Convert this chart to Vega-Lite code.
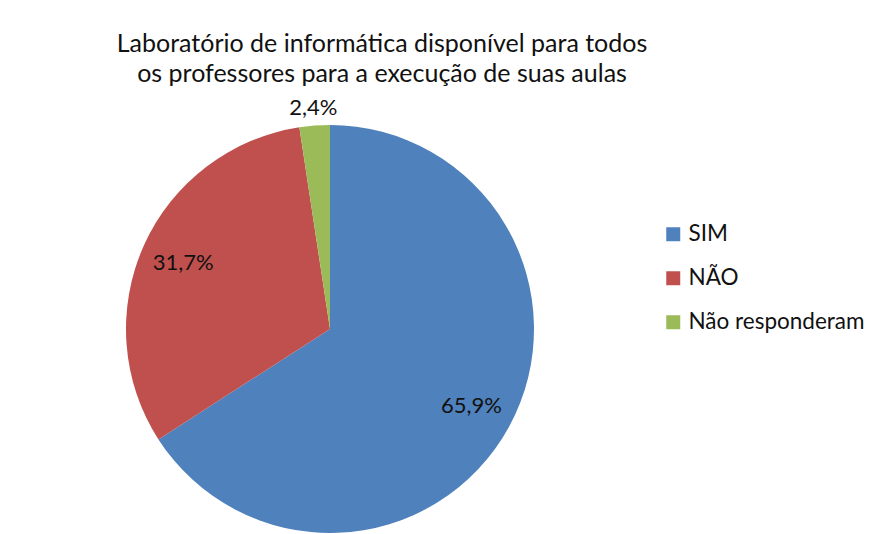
{
  "$schema": "https://vega.github.io/schema/vega-lite/v6.json",
  "autosize": {"type": "none"},
  "width": 660,
  "height": 458,
  "padding": {"left": 0, "top": 100, "right": 214, "bottom": 0},
  "background": "white",
  "title": {
    "text": ["Laboratório de informática disponível para todos", "os professores para a execução  de suas aulas"],
    "font": "Lato",
    "fontSize": 25,
    "fontWeight": "normal",
    "color": "#111111",
    "anchor": "middle",
    "dx": 52,
    "offset": 10,
    "lineHeight": 30
  },
  "data": {
    "values": [
      {"resposta": "SIM", "pct": 65.9, "rotulo": "65,9%"},
      {"resposta": "NÃO", "pct": 31.7, "rotulo": "31,7%"},
      {"resposta": "Não responderam", "pct": 2.4, "rotulo": "2,4%"}
    ]
  },
  "encoding": {
    "theta": {"field": "pct", "type": "quantitative", "stack": true},
    "order": {"field": "pct", "type": "quantitative", "sort": "descending"}
  },
  "layer": [
    {
      "mark": {"type": "arc", "outerRadius": 204, "stroke": null},
      "encoding": {
        "color": {
          "field": "resposta",
          "type": "nominal",
          "sort": ["SIM", "NÃO", "Não responderam"],
          "scale": {"domain": ["SIM", "NÃO", "Não responderam"], "range": ["#4F81BD", "#C0504D", "#9BBB59"]},
          "legend": {
            "title": null,
            "orient": "none",
            "legendX": 662,
            "legendY": 123,
            "padding": 0,
            "symbolType": "square",
            "symbolSize": 196,
            "symbolStrokeWidth": 0,
            "labelFont": "Lato",
            "labelFontSize": 22.5,
            "labelColor": "#111111",
            "labelOffset": 4,
            "labelLimit": 400,
            "rowPadding": 21
          }
        }
      }
    },
    {
      "mark": {"type": "text", "radius": 161, "font": "Lato", "fontSize": 22, "color": "#111111"},
      "encoding": {
        "text": {"condition": {"test": "datum.pct < 5", "value": ""}, "field": "rotulo", "type": "nominal"}
      }
    },
    {
      "mark": {"type": "text", "radius": 222, "font": "Lato", "fontSize": 22, "color": "#111111"},
      "encoding": {
        "text": {"condition": {"test": "datum.pct >= 5", "value": ""}, "field": "rotulo", "type": "nominal"}
      }
    }
  ],
  "config": {"view": {"stroke": null}}
}
